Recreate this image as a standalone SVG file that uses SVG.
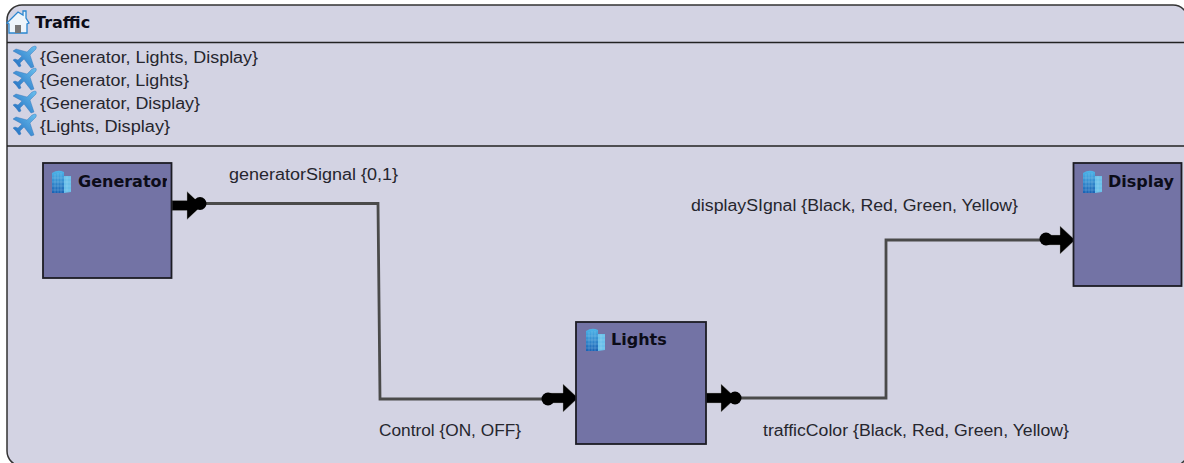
<svg xmlns="http://www.w3.org/2000/svg" width="1184" height="463" viewBox="0 0 1184 463">
<style>
.l{font-size:16px;fill:#26262e;font-family:"Liberation Sans",Arial,sans-serif}
.b{font-size:16px;font-weight:bold;fill:#0c0c18;font-family:"DejaVu Sans",sans-serif}
.box{fill:#7373a5;stroke:#1c1c24;stroke-width:1.8}
.w{fill:none;stroke:#4a4a4a;stroke-width:2.8}
.sep{stroke:#222;stroke-width:1.5}
</style>
<defs>
<linearGradient id="bg" x1="0" y1="0" x2="0" y2="1"><stop offset="0" stop-color="#4fb6ea"/><stop offset="1" stop-color="#1a62b4"/></linearGradient>
<linearGradient id="pg" x1="1" y1="0" x2="0" y2="1"><stop offset="0" stop-color="#6cc0ee"/><stop offset="1" stop-color="#1f6cc0"/></linearGradient>
<g id="bld"><path d="M0 2 Q6 -2 12 1 V22 H0Z" fill="url(#bg)"/><path d="M12 5 H19 V21 L12 22Z" fill="#6ac0ea"/><path d="M3 3 V22 M6 2 V22 M9 2 V22 M15 5 V21 M0 7 H19 M0 11 H19 M0 15 H19 M0 19 H19" stroke="#bfe4f6" stroke-width=".4" opacity=".6" fill="none"/></g>
<g id="plane"><path d="M22 0 Q24 0 23 3 L17 9 L21 21 L18 22 L11 13 L7 17 L8 20 L6 21 L3 17 L0 14 L2 13 L5 14 L9 10 L0 5 L3 3 L14 6 L19 1Z" fill="url(#pg)" stroke="#2a70b8" stroke-width=".4"/></g>
<g id="arrow"><path d="M0 -5 H15 V-14 L30 0 L15 14 V5 H0Z" fill="#000" stroke="#aaa" stroke-width=".4"/></g>
</defs>
<rect width="1184" height="463" fill="#fff"/>
<g id="traffic">
<rect x="7" y="5" width="1181" height="461" rx="15" fill="#d3d3e3" stroke="#333" stroke-width="1.500"/>
<line class="sep" x1="7" y1="42.500" x2="1184" y2="42.500"/>
<line class="sep" x1="7" y1="146" x2="1184" y2="146"/>
<g id="home"><path d="M7 23 L18 12 L23 15 V11 H26 V18 L29 23 L27 24 V33 H9 V24Z" fill="#eef5fb" stroke="#2a86d0" stroke-width="1.300"/><rect x="15" y="25" width="6" height="8" fill="#777"/></g>
<text class="b" x="35" y="28">Traffic</text>
<use href="#plane" x="13" y="46"/><text class="l" x="40" y="63" textLength="218" lengthAdjust="spacingAndGlyphs">{Generator, Lights, Display}</text>
<use href="#plane" x="13" y="68"/><text class="l" x="40" y="86" textLength="149" lengthAdjust="spacingAndGlyphs">{Generator, Lights}</text>
<use href="#plane" x="13" y="91"/><text class="l" x="40" y="109" textLength="160" lengthAdjust="spacingAndGlyphs">{Generator, Display}</text>
<use href="#plane" x="13" y="114"/><text class="l" x="40" y="132" textLength="130" lengthAdjust="spacingAndGlyphs">{Lights, Display}</text>
</g>
<g id="connectors">
<path class="w" d="M200 203.500 H378 L380 399 H549"/>
<path class="w" d="M735 398 H886 V240 H1046"/>
</g>
<g id="ports">
<use href="#arrow" x="172" y="205.500"/><circle cx="200" cy="203.500" r="6.500" fill="#000"/>
<use href="#arrow" x="548" y="398"/><circle cx="548" cy="399" r="6.500" fill="#000"/>
<use href="#arrow" x="706" y="398"/><circle cx="735" cy="398" r="6.500" fill="#000"/>
<use href="#arrow" x="1045" y="240"/><circle cx="1046" cy="239" r="6.500" fill="#000"/>
</g>
<g id="generator">
<rect class="box" x="43" y="163" width="128.500" height="115"/>
<use href="#bld" x="52" y="171"/>
<svg x="43" y="163" width="124" height="40"><text class="b" x="35" y="24">Generator</text></svg>
</g>
<g id="lights">
<rect class="box" x="576" y="322" width="130" height="122"/>
<use href="#bld" x="586" y="329"/>
<text class="b" x="611" y="345">Lights</text>
</g>
<g id="display">
<rect class="box" x="1073.500" y="163" width="108" height="123"/>
<use href="#bld" x="1083" y="171"/>
<text class="b" x="1108" y="187">Display</text>
</g>
<g id="labels">
<text class="l" x="229" y="180" textLength="169" lengthAdjust="spacingAndGlyphs">generatorSignal {0,1}</text>
<text class="l" x="691" y="211" textLength="327" lengthAdjust="spacingAndGlyphs">displaySIgnal {Black, Red, Green, Yellow}</text>
<text class="l" x="379" y="436" textLength="142" lengthAdjust="spacingAndGlyphs">Control {ON, OFF}</text>
<text class="l" x="763" y="436" textLength="306" lengthAdjust="spacingAndGlyphs">trafficColor {Black, Red, Green, Yellow}</text>
</g>
</svg>
